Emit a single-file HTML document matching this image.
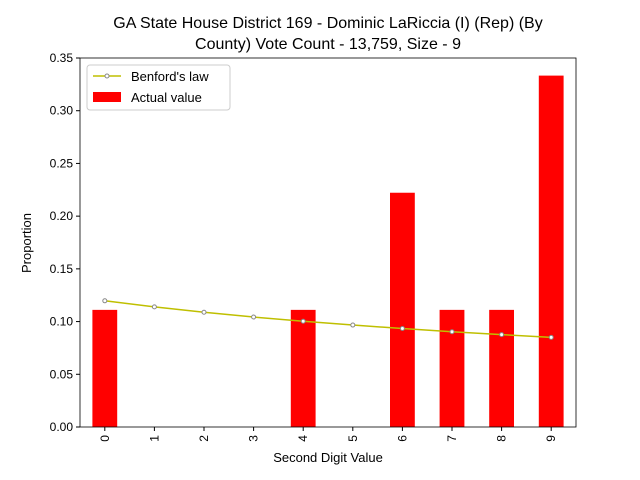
<!DOCTYPE html>
<html><head><meta charset="utf-8"><style>body{margin:0;background:#fff}svg{display:block;font-family:"Liberation Sans","DejaVu Sans",sans-serif}</style></head>
<body>
<svg id="chart" width="640" height="480" xmlns="http://www.w3.org/2000/svg">
<rect width="640" height="480" fill="#fff"/>
<text x="328" y="28" text-anchor="middle" font-size="16">GA State House District 169 - Dominic LaRiccia (I) (Rep) (By</text>
<text x="328" y="49" text-anchor="middle" font-size="16">County) Vote Count - 13,759, Size - 9</text>
<g id="bars"></g><g id="line"></g><g id="axes"></g>
<text x="328" y="462" text-anchor="middle" font-size="13">Second Digit Value</text>
<text transform="translate(31,243) rotate(-90)" text-anchor="middle" font-size="13">Proportion</text>
<g>
<rect x="87" y="65" width="143" height="45" fill="#fff" stroke="#ccc" rx="3"/>
<line x1="93" y1="76" x2="121" y2="76" stroke="#bfbf00" stroke-width="1.5"/>
<circle cx="107" cy="76" r="2" fill="#fff" stroke="#888"/>
<text x="131" y="81" font-size="13">Benford's law</text>
<rect x="93" y="92" width="28" height="10" fill="#f00"/>
<text x="131" y="102" font-size="13">Actual value</text>
</g>
</svg>
<script>
const categories=["0","1","2","3","4","5","6","7","8","9"];
const actualValues=[0.1111,0,0,0,0.1111,0,0.2222,0.1111,0.1111,0.3333];
const benfordValues=[0.1197,0.1139,0.1088,0.1043,0.1003,0.0967,0.0934,0.0904,0.0876,0.0850];
const yTicks=[0,0.05,0.10,0.15,0.20,0.25,0.30,0.35];
const L=80,R=576,T=58,B=427,ymax=0.35;
const step=(R-L)/categories.length;
const xs=i=>L+step*(i+0.5);
const ys=v=>B-(v/ymax)*(B-T);
const NS="http://www.w3.org/2000/svg";
function mk(t,a,p){const e=document.createElementNS(NS,t);for(const k in a)e.setAttribute(k,a[k]);p.appendChild(e);return e;}
const bars=document.getElementById('bars'),line=document.getElementById('line'),axes=document.getElementById('axes');
actualValues.forEach((v,i)=>{if(v<=0)return;const w=step*0.5;
const r=mk('rect',{x:xs(i)-w/2,y:ys(v),width:w,height:B-ys(v),fill:'#f00'},bars);

});
const pts=benfordValues.map((v,i)=>xs(i)+','+ys(v)).join(' ');
const pl=mk('polyline',{points:pts,fill:'none',stroke:'#bfbf00','stroke-width':1.5},line);


benfordValues.forEach((v,i)=>{const c=mk('circle',{cx:xs(i),cy:ys(v),r:2,fill:'#fff',stroke:'#888'},line);

});
const fr=mk('rect',{x:L,y:T,width:R-L,height:B-T,fill:'none',stroke:'#000','stroke-width':0.8},axes);


yTicks.forEach(t=>{const y=ys(t);mk('line',{x1:L-4,x2:L,y1:y,y2:y,stroke:'#000'},axes);
const tx=mk('text',{x:L-7,y:y+4,'text-anchor':'end','font-size':12},axes);tx.textContent=t.toFixed(2);

});
categories.forEach((c,i)=>{const x=xs(i);mk('line',{x1:x,x2:x,y1:B,y2:B+4,stroke:'#000'},axes);
const tx=mk('text',{transform:`translate(${x+4},${B+8}) rotate(-90)`,'text-anchor':'end','font-size':12},axes);tx.textContent=c;

});
</script>
</body></html>
